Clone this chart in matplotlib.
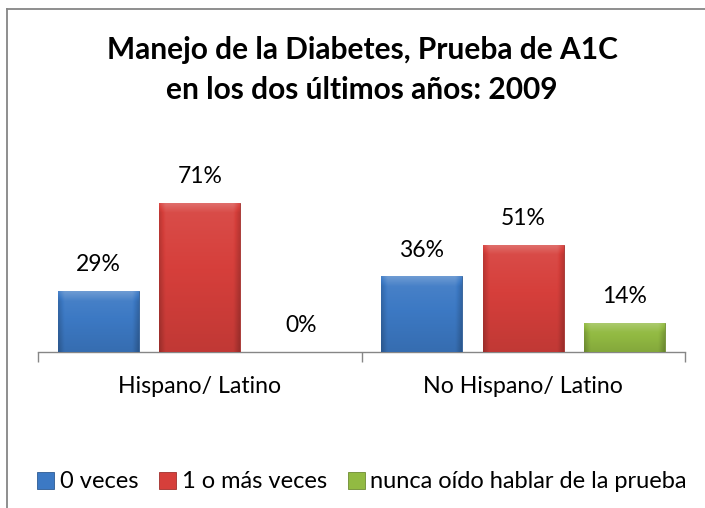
import numpy as np
import matplotlib
matplotlib.use("Agg")
import matplotlib.pyplot as plt
from matplotlib.lines import Line2D
from matplotlib.patches import Patch
from matplotlib.colors import to_rgb

plt.rcParams['font.family'] = ['Lato', 'DejaVu Sans']

title = "Manejo de la Diabetes, Prueba de A1C\nen los dos últimos años: 2009"
categories = ["Hispano/ Latino", "No Hispano/ Latino"]
series_names = ["0 veces", "1 o más veces", "nunca oído hablar de la prueba"]
values_0_veces = [0.29, 0.36]
values_1_o_mas = [0.71, 0.51]
values_nunca = [0.00, 0.14]
series_values = [values_0_veces, values_1_o_mas, values_nunca]
colors = ["#3C79C4", "#D63F3B", "#92BA42"]

W, H = 705, 508
fig = plt.figure(figsize=(W / 100, H / 100), dpi=100)
ax = fig.add_axes([38 / W, (H - 352) / H, 647 / W, 210 / H])

x = np.arange(len(categories))
bw = 0.25
offs = [-0.314, 0.0, 0.314]


def shade(c, f):
    c = np.array(to_rgb(c))
    if f >= 0:
        return c + (1 - c) * f
    return c * (1 + f)


def gradient_bar(patch, color):
    x0, y0 = patch.get_x(), patch.get_y()
    w, h = patch.get_width(), patch.get_height()
    if h <= 0:
        return
    ny, nx = 120, 60
    yy = np.linspace(1, 0, ny)[:, None]  # 1 at top
    xx = np.linspace(0, 1, nx)[None, :]
    base = np.array(to_rgb(color))
    fv = 0.08 * yy - 0.10 * (1 - yy)
    px_h = h * 210.0
    top_band = np.clip(1 - (1 - yy) * px_h / 10.0, 0, 1)
    fv = fv + 0.18 * top_band
    edge = np.minimum(xx, 1 - xx)
    fh = -0.18 * np.clip(1 - edge * 81 / 6.0, 0, 1)
    f = fv + fh
    img = np.empty((ny, nx, 3))
    for k in range(3):
        ck = base[k]
        pos = ck + (1 - ck) * np.clip(f, 0, None)
        neg = ck * (1 + np.clip(f, None, 0))
        img[:, :, k] = np.where(f >= 0, pos, neg)
    img = np.clip(img, 0, 1)
    im = ax.imshow(img, extent=(x0, x0 + w, y0, y0 + h), aspect='auto',
                   zorder=patch.get_zorder() + 0.1, interpolation='bilinear')
    im.set_clip_path(patch)


for i, (vals, col) in enumerate(zip(series_values, colors)):
    bars = ax.bar(x + offs[i], vals, width=bw, color=col, edgecolor=shade(col, -0.25),
                  linewidth=0.6, zorder=3)
    for b, v in zip(bars, vals):
        gradient_bar(b, col)
        ax.annotate(f"{v * 100:.0f}%", (b.get_x() + b.get_width() / 2, v),
                    xytext=(0, 19), textcoords='offset points', ha='center', va='center',
                    fontsize=16.5, color='black', annotation_clip=False)

ax.set_xlim(-0.5, len(categories) - 0.5)
ax.set_ylim(0, 1)
for s in ['top', 'right', 'left']:
    ax.spines[s].set_visible(False)
ax.spines['bottom'].set_color('#868686')
ax.spines['bottom'].set_linewidth(1.0)
ax.set_yticks([])
ax.set_xticks(np.arange(-0.5, len(categories)), minor=True)
ax.set_xticks(x)
ax.set_xticklabels(categories, fontsize=16.7)
ax.tick_params(axis='x', which='major', length=0, pad=17)
ax.tick_params(axis='x', which='minor', length=7, color='#868686', width=1.0)
ax.patch.set_visible(False)

fig.text(362 / W, 1 - 70 / H, title, ha='center', va='center', fontsize=21.5,
         fontweight='bold', linespacing=1.55)

handles = [Patch(facecolor=c, edgecolor=shade(c, -0.25), linewidth=0.6) for c in colors]
fig.legend(handles, series_names, loc='center', bbox_to_anchor=(362 / W, 1 - 482 / H),
           ncol=3, frameon=False, fontsize=17, handlelength=0.72, handleheight=0.72,
           handletextpad=0.22, columnspacing=0.9, borderaxespad=0)

fig.add_artist(Line2D([7 / W, 1.0], [1 - 9 / H, 1 - 9 / H], color='#868686', linewidth=1.3))
fig.add_artist(Line2D([7 / W, 7 / W], [0, 1 - 9 / H], color='#868686', linewidth=1.3))

fig.savefig("out.png", dpi=100)
